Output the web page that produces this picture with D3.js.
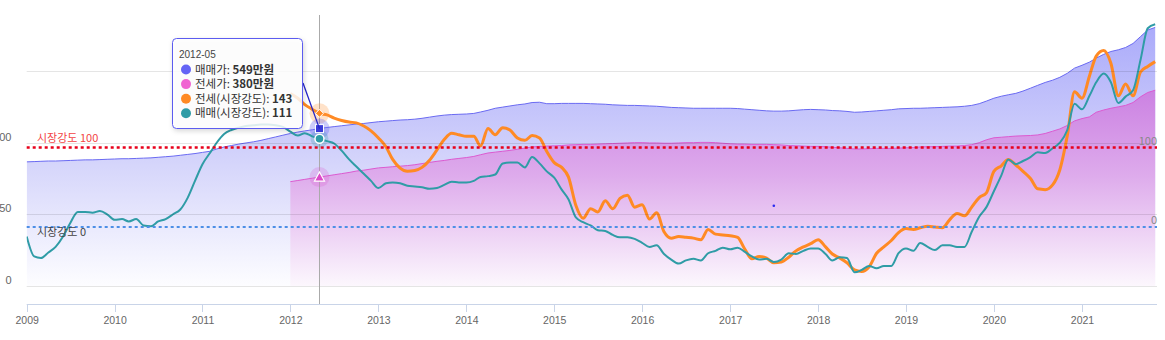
<!DOCTYPE html>
<html><head><meta charset="utf-8">
<script src="https://cdn.jsdelivr.net/npm/d3@7"></script>
<style>
html,body{margin:0;padding:0;background:#fff;overflow:hidden;}
svg{display:block;font-family:"Noto Sans CJK KR","Noto Sans",sans-serif;}
</style></head><body>
<svg id="chart" width="1165" height="340"></svg>
<script>
// ---------- data ----------
const startMonth = "2009-01";
const jeonseStart = "2012-01";
const tooltipMonth = "2012-05";
const yearTicks = ["2009","2010","2011","2012","2013","2014","2015","2016","2017","2018","2019","2020","2021"];
const priceTicks = [0, 250, 500, 750];
// left tick labels as they appear (clipped at the window's left edge)
const priceTickLabels = ["0", "50", "00"];
const strengthRefs = [0, 100];
const seriesNames = ["매매가", "전세가", "전세(시장강도)", "매매(시장강도)"];
const unit = "만원";

// 매매가 (만원), 2009-01 .. 2021-11
const salePrice = [
433,434,435,436,436,437,438,439,440,440,441,442,443,
444,444,445,446,447,449,451,453,456,459,462,466,
470,478,485,490,495,499,503,508,514,520,526,532,
537,541,545,549,553,556,559,562,565,567,570,573,
575,577,579,580,582,585,589,593,596,598,599,600,
602,607,613,620,624,628,632,635,640,641,636,636,
637,637,637,637,636,635,634,632,631,630,630,629,
628,627,625,623,622,621,620,620,620,620,620,620,
619,617,615,613,611,610,610,611,613,615,616,615,
614,612,611,609,606,607,609,611,613,615,618,619,
620,620,621,622,623,624,625,627,630,636,645,655,
662,667,672,680,690,700,710,718,728,742,760,770,
781,795,808,818,824,832,846,870,893,902];

// 전세가 (만원), 2012-01 .. 2021-11
const jeonsePrice = [
364,368,372,376,380,384,388,392,396,401,404,408,412,
414,416,418,420,423,427,431,435,438,442,445,448,
452,458,464,467,470,473,477,481,485,487,488,489,
490,492,493,494,494,495,496,497,498,499,500,500,
499,499,498,498,499,500,500,501,501,500,498,496,
495,495,494,494,494,493,492,490,489,488,487,487,
486,484,482,480,478,478,479,480,480,480,481,482,
483,485,486,486,487,488,488,490,493,500,510,517,
519,521,523,524,525,527,532,540,548,560,576,584,
590,606,614,620,625,630,640,660,675,683];

// 전세(시장강도), 2012-01 .. 2021-11
const jeonseStrength = [
168,162,154,148,143,141,137,134,132,131,127,121,112,
101,85,74,70,71,75,84,97,110,118,116,114,
114,102,124,116,125,122,112,109,115,112,95,81,
75,63,27,11,23,19,33,23,36,40,25,28,
10,18,-6,-14,-12,-13,-14,-16,-3,-9,-10,-11,
-13,-27,-40,-37,-39,-45,-44,-38,-30,-25,-21,-16,
-25,-34,-39,-45,-54,-56,-50,-33,-25,-17,-7,-2,
-3,-1,1,0,-1,9,17,14,25,37,43,70,
77,85,78,70,61,48,47,53,72,115,170,162,
190,215,222,206,165,180,165,195,202,208];

// 매매(시장강도), 2009-01 .. 2021-11
const saleStrength = [
-12,-37,-39,-32,-25,-12,5,19,19,18,20,16,9,
10,7,10,2,1,7,10,16,22,37,58,79,
93,106,117,122,125,127,128,129,129,128,126,120,
115,118,114,111,108,105,96,85,76,67,58,49,
55,56,55,52,51,50,48,49,53,57,56,56,
58,63,64,66,80,81,81,75,88,80,70,62,
47,35,12,6,2,-4,-5,-10,-13,-13,-15,-20,
-25,-23,-34,-41,-46,-42,-40,-42,-33,-30,-26,-28,
-26,-31,-37,-41,-40,-44,-41,-33,-34,-30,-27,-27,
-34,-42,-38,-39,-57,-54,-49,-52,-49,-49,-33,-27,
-30,-20,-25,-29,-23,-23,-25,-25,-6,13,25,45,
65,85,79,83,88,94,93,99,106,122,155,148,
165,182,193,182,156,164,172,210,250,255];

// ---------- chart ----------
const svg = d3.select("#chart");
const parse = d3.timeParse("%Y-%m");
const parseYear = d3.timeParse("%Y");
const saleMonths = salePrice.map((_, i) => d3.timeMonth.offset(parse(startMonth), i));
const jeonseMonths = jeonsePrice.map((_, i) => d3.timeMonth.offset(parse(jeonseStart), i));

const plotL = 26.7, plotR = 1157, plotT = 0, base = 286, axisY = 304;
const x = d3.scaleTime().domain([parseYear(yearTicks[0]), parseYear(yearTicks[yearTicks.length-1])]).range([plotL, 1082]);
const yP = d3.scaleLinear().domain([0, 750]).range([base, 71]);
const yS = d3.scaleLinear().domain([0, 100]).range([227, 147.5]);

const defs = svg.append("defs");
const g1 = defs.append("linearGradient").attr("id","gPrice").attr("gradientUnits","userSpaceOnUse")
  .attr("x1",0).attr("y1",20).attr("x2",0).attr("y2",base);
g1.append("stop").attr("offset",0).attr("stop-color","rgb(168,168,250)");
g1.append("stop").attr("offset",0.55).attr("stop-color","rgb(214,214,251)");
g1.append("stop").attr("offset",1).attr("stop-color","rgb(253,253,255)");
const g2 = defs.append("linearGradient").attr("id","gJeonse").attr("gradientUnits","userSpaceOnUse")
  .attr("x1",0).attr("y1",88).attr("x2",0).attr("y2",base);
g2.append("stop").attr("offset",0).attr("stop-color","rgb(203,128,226)");
g2.append("stop").attr("offset",0.45).attr("stop-color","rgb(222,172,236)");
g2.append("stop").attr("offset",1).attr("stop-color","rgb(252,247,253)");
defs.append("clipPath").attr("id","clip").append("rect")
  .attr("x",plotL).attr("y",plotT).attr("width",plotR-plotL).attr("height",base-plotT);
const sh = defs.append("filter").attr("id","shadow").attr("x","-20%").attr("y","-20%").attr("width","140%").attr("height","140%");
sh.append("feDropShadow").attr("dx",1).attr("dy",2).attr("stdDeviation",2.5).attr("flood-color","#000").attr("flood-opacity",0.18);

const plot = svg.append("g").attr("clip-path","url(#clip)");

const saleData = saleMonths.map((d,i)=>({d, p: salePrice[i], s: saleStrength[i]}));
const jeonseData = jeonseMonths.map((d,i)=>({d, p: jeonsePrice[i], s: jeonseStrength[i]}));

plot.append("path").datum(saleData)
  .attr("d", d3.area().x(d=>x(d.d)).y0(yP(0)).y1(d=>yP(d.p)))
  .attr("fill","url(#gPrice)");
plot.append("path").datum(jeonseData)
  .attr("d", d3.area().x(d=>x(d.d)).y0(yP(0)).y1(d=>yP(d.p)))
  .attr("fill","url(#gJeonse)");

// grid
svg.append("g").selectAll("line").data(priceTicks).join("line")
  .attr("x1",plotL).attr("x2",plotR).attr("y1",d=>Math.round(yP(d))+0.5).attr("y2",d=>Math.round(yP(d))+0.5)
  .attr("stroke","rgba(0,0,0,0.10)").attr("stroke-width",1);

plot.append("path").datum(saleData)
  .attr("d", d3.line().x(d=>x(d.d)).y(d=>yP(d.p)))
  .attr("fill","none").attr("stroke","#6a6af2").attr("stroke-width",1);
plot.append("path").datum(jeonseData)
  .attr("d", d3.line().x(d=>x(d.d)).y(d=>yP(d.p)))
  .attr("fill","none").attr("stroke","#dc5ad0").attr("stroke-width",1);

// reference lines
svg.append("line").attr("x1",plotL).attr("x2",plotR).attr("y1",yS(100)).attr("y2",yS(100))
  .attr("stroke","#e8001a").attr("stroke-width",2.5).attr("stroke-dasharray","3,3");
svg.append("line").attr("x1",plotL).attr("x2",plotR).attr("y1",yS(0)).attr("y2",yS(0))
  .attr("stroke","#4d8fe6").attr("stroke-width",2).attr("stroke-dasharray","3,3");
svg.append("text").attr("x",37).attr("y",yS(100)-9.5).attr("dy","0.35em")
  .attr("font-size",11).attr("fill","#f34545").text("시장강도 " + strengthRefs[1]);
svg.append("text").attr("x",37).attr("y",yS(0)+5.5).attr("dy","0.35em")
  .attr("font-size",11).attr("fill","#444").text("시장강도 " + strengthRefs[0]);
svg.append("g").selectAll("text").data(strengthRefs).join("text")
  .attr("x",plotR).attr("y",d=>yS(d)-6.5).attr("dy","0.35em").attr("text-anchor","end")
  .attr("font-size",11).attr("fill","#888").text(d=>d);

// left labels
svg.append("g").selectAll("text").data(priceTickLabels).join("text")
  .attr("x",11.5).attr("y",(d,i)=>yP(priceTicks[i])-6).attr("dy","0.35em").attr("text-anchor","end")
  .attr("font-size",11).attr("fill","#666").attr("font-family","Liberation Sans, Arial, sans-serif").text(d=>d);

// strength lines
const sLine = d3.line().x(d=>x(d.d)).y(d=>yS(d.s)).curve(d3.curveMonotoneX);
plot.append("path").datum(jeonseData).attr("d", sLine)
  .attr("fill","none").attr("stroke","#ff8a24").attr("stroke-width",3).attr("stroke-linejoin","round");
plot.append("path").datum(saleData).attr("d", sLine)
  .attr("fill","none").attr("stroke","#2f9ca6").attr("stroke-width",2).attr("stroke-linejoin","round");

// x axis
const ax = svg.append("g").attr("font-family","Liberation Sans, Arial, sans-serif");
ax.append("line").attr("x1",plotL).attr("x2",plotR).attr("y1",axisY+0.5).attr("y2",axisY+0.5).attr("stroke","#c9d4e8");
ax.selectAll("line.t").data(yearTicks).join("line").attr("class","t")
  .attr("x1",d=>Math.round(x(parseYear(d)))+0.5).attr("x2",d=>Math.round(x(parseYear(d)))+0.5)
  .attr("y1",axisY).attr("y2",axisY+8).attr("stroke","#c9d4e8");
ax.selectAll("text").data(yearTicks).join("text")
  .attr("x",d=>x(parseYear(d))+0.5).attr("y",axisY+16).attr("dy","0.35em").attr("text-anchor","middle")
  .attr("font-size",10.5).attr("fill","#666").text(d=>d);

// small stray point
const strayMonth = "2017-07";
svg.append("circle").attr("cx",x(parse(strayMonth))).attr("cy",yP(280)).attr("r",1.3).attr("fill","#2a2af0");

// crosshair + tooltip
const tm = parse(tooltipMonth);
const si = saleMonths.findIndex(d=>+d===+tm);
const ji = jeonseMonths.findIndex(d=>+d===+tm);
const cx = x(tm);
svg.append("line").attr("x1",Math.round(cx)+0.5).attr("x2",Math.round(cx)+0.5).attr("y1",15).attr("y2",axisY)
  .attr("stroke","#aaa").attr("stroke-width",1);

const mk = svg.append("g");
mk.append("circle").attr("cx",cx).attr("cy",yS(jeonseStrength[ji])).attr("r",10).attr("fill","rgba(255,150,60,0.28)");
mk.append("circle").attr("cx",cx).attr("cy",yP(salePrice[si])).attr("r",10).attr("fill","rgba(110,110,240,0.35)");
mk.append("circle").attr("cx",cx).attr("cy",yS(saleStrength[si])).attr("r",9).attr("fill","rgba(47,156,166,0.25)");
mk.append("circle").attr("cx",cx).attr("cy",yP(jeonsePrice[ji])).attr("r",10).attr("fill","rgba(220,90,208,0.25)");
const yd = yS(jeonseStrength[ji]);
mk.append("path").attr("d",`M${cx},${yd-4}L${cx+4},${yd}L${cx},${yd+4}L${cx-4},${yd}Z`).attr("fill","#ff8a24").attr("stroke","#fff").attr("stroke-width",1);
const yq = yP(salePrice[si]);
mk.append("rect").attr("x",cx-4).attr("y",yq-4).attr("width",8).attr("height",8).attr("fill","#3a3ad8").attr("stroke","#fff").attr("stroke-width",1);
mk.append("circle").attr("cx",cx).attr("cy",yS(saleStrength[si])).attr("r",4.5).attr("fill","#2f9ca6").attr("stroke","#fff").attr("stroke-width",1.5);
const yt = yP(jeonsePrice[ji]);
mk.append("path").attr("d",`M${cx},${yt-5}L${cx+5},${yt+4}L${cx-5},${yt+4}Z`).attr("fill","#dc4ac8").attr("stroke","#fff").attr("stroke-width",1.2);

svg.append("line").attr("x1",303).attr("y1",83).attr("x2",cx).attr("y2",yq)
  .attr("stroke","#2525c8").attr("stroke-width",1.3);

const tip = svg.append("g");
tip.append("rect").attr("x",172.5).attr("y",38.5).attr("width",130).attr("height",90).attr("rx",4)
  .attr("fill","rgba(255,255,255,0.82)").attr("stroke","#5b5bf0").attr("stroke-width",1).attr("filter","url(#shadow)");
tip.append("text").attr("x",179).attr("y",54).attr("dy","0.35em").attr("font-size",10).attr("fill","#444")
  .attr("font-family","Liberation Sans, Arial, sans-serif").text(tooltipMonth);
const rows = [
  {c:"#6464f5", n:seriesNames[0], v:salePrice[si] + unit},
  {c:"#f064d2", n:seriesNames[1], v:jeonsePrice[ji] + unit},
  {c:"#ff8a24", n:seriesNames[2], v:jeonseStrength[ji]},
  {c:"#2f9ca6", n:seriesNames[3], v:saleStrength[si]}
];
rows.forEach((r,i)=>{
  const yy = 69.5 + i*14.6;
  tip.append("circle").attr("cx",186).attr("cy",yy).attr("r",5).attr("fill",r.c);
  const t = tip.append("text").attr("x",195).attr("y",yy).attr("dy","0.35em").attr("font-size",11.5).attr("fill","#333");
  t.append("tspan").text(r.n + ": ");
  t.append("tspan").attr("font-weight","bold").text(r.v);
});
</script>
</body></html>
